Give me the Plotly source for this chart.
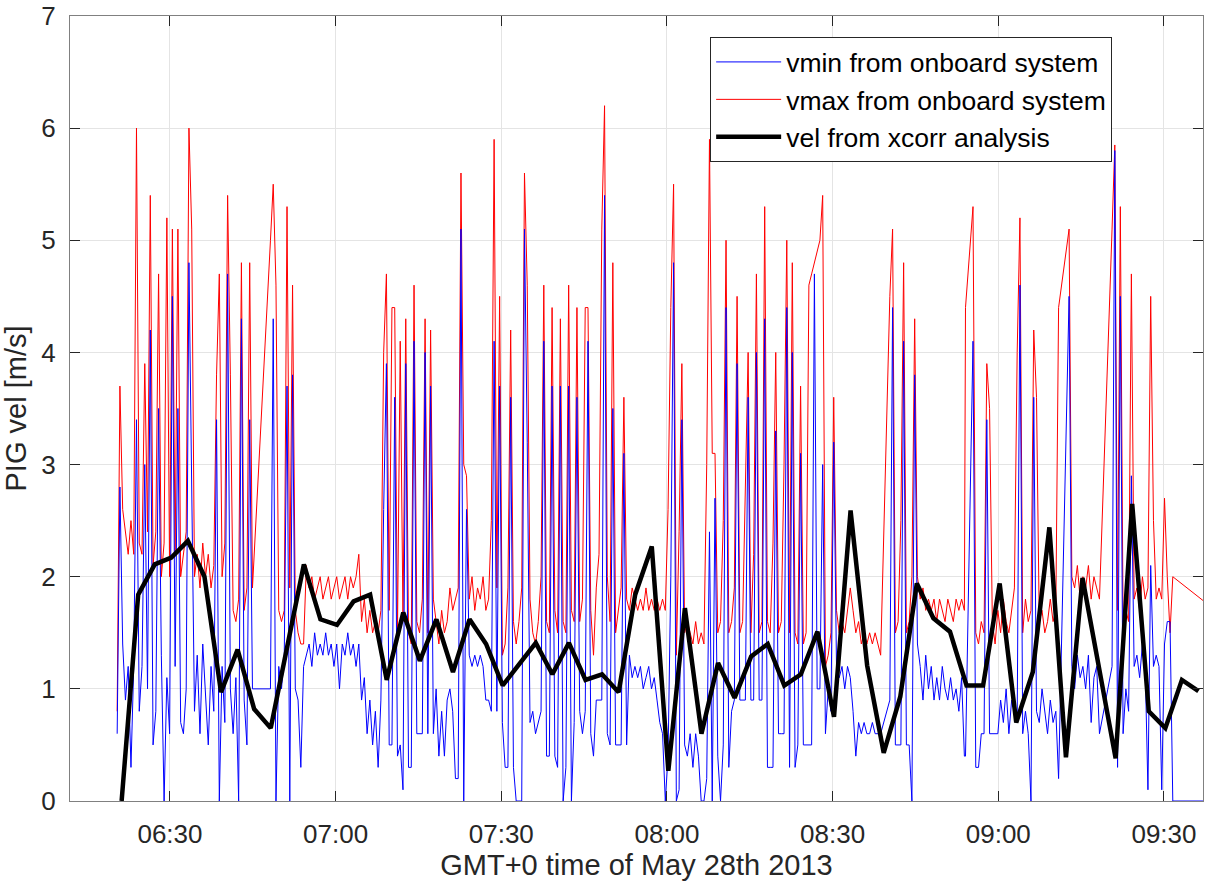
import pandas as pd
import plotly.graph_objects as go

# ---------------- data ----------------
day = pd.Timestamp("2013-05-28 06:00:00")

# onboard system: contiguous recording blocks, one sample every 30 s
sample_period_min = 0.5
seg_start_min = [20.44, 48.20, 160.36, 174.06, 175.42, 192.82, 200.60, 223.72]

vmax_a = [0.8, 3.7, 2.6, 2.4, 2.2, 2.5, 2.2, 6.0, 2.3, 2.2,
          3.9, 2.4, 5.4, 2.1, 2.4, 4.7, 2.0, 2.3, 5.2, 2.0,
          5.1, 2.2, 5.1, 2.0, 2.2, 2.4, 6.0, 5.1, 2.0, 2.2,
          1.9, 2.3, 2.0, 2.2, 1.9, 2.1, 3.8, 4.7, 2.0, 2.3,
          5.4, 3.8, 1.7, 1.6, 1.8, 4.8, 1.7, 1.9, 4.8, 1.9]
vmin_a = [0.6, 2.8, 1.4, 0.9, 1.2, 0.3, 1.2, 3.4, 0.8, 1.2,
          3.0, 1.0, 4.2, 0.5, 0.8, 3.5, 1.3, 0.0, 1.1, 0.6,
          4.5, 1.2, 3.5, 0.7, 0.6, 1.0, 4.8, 2.7, 0.8, 1.3,
          0.6, 1.4, 1.0, 0.5, 1.2, 0.8, 3.4, 0.0, 1.2, 0.7,
          4.7, 1.0, 0.6, 1.1, 0.0, 4.3, 0.9, 0.5, 3.4, 1.0]

vmax_b = [5.0, 5.5, 4.6, 1.7, 1.6, 1.7, 5.3, 1.9, 4.6, 1.7,
          1.5, 1.4, 1.4, 2.1, 1.9, 2.0, 1.8, 1.9, 2.0, 1.8,
          1.9, 2.0, 1.8, 1.9, 2.0, 1.8, 1.9, 2.0, 1.8, 2.0,
          1.9, 2.0, 2.2, 1.6, 1.8, 1.5, 1.7, 1.5, 1.6, 1.5,
          1.7, 4.0, 4.7, 1.7, 4.4, 4.4, 1.5, 4.1, 1.6, 4.3,
          1.5, 1.4, 4.6, 1.6, 1.5, 1.8, 4.3, 1.5, 4.2, 1.8,
          1.6, 1.4, 1.7, 1.5, 1.6, 1.9, 1.7, 1.8, 1.9, 5.6,
          3.0, 2.9, 1.8, 2.0, 1.7, 1.9, 1.8, 2.0, 1.7, 1.8,
          2.5, 5.9, 1.9, 4.5, 1.3, 1.4, 1.9, 4.2, 1.6, 1.4,
          1.6, 1.9, 5.6, 4.6, 1.8, 1.5, 1.4, 1.6, 2.0, 4.6,
          1.6, 1.5, 4.4, 1.7, 1.5, 4.3, 1.6, 1.5, 4.6, 1.7,
          1.6, 4.4, 1.6, 1.8, 4.4, 4.4, 1.7, 1.3, 1.9, 2.2,
          5.1, 6.2, 2.0, 1.6, 4.8, 1.5, 1.7, 1.9, 3.6, 1.8,
          1.7, 1.9, 1.8, 1.7, 1.8, 1.7, 1.9, 1.7, 1.8, 1.7,
          1.8, 1.7, 1.8, 1.7, 2.6, 4.4, 5.5, 1.3, 2.4, 3.9,
          1.5, 1.6, 1.5, 1.4, 1.6, 1.4, 1.5, 1.4, 3.0, 5.9,
          3.1, 3.1, 1.5, 1.6, 2.5, 5.0, 1.5, 1.6, 1.9, 4.5,
          1.5, 1.6, 2.8, 4.0, 1.5, 2.2, 4.7, 1.5, 1.6, 5.3,
          1.6, 1.5, 2.3, 4.0, 1.5, 1.6, 3.0, 5.0, 1.5, 4.8,
          1.5, 1.4, 3.7, 1.4, 1.5, 4.6, 4.7, 4.8, 4.9, 5.0,
          5.4, 1.2, 1.3, 1.5, 3.6, 1.7, 1.5, 1.6, 1.5, 1.7,
          1.9, 1.7, 1.5, 1.6, 1.4, 1.5, 1.4, 1.5, 1.4, 1.5,
          1.4, 1.3]
vmin_b = [1.0, 4.3, 0.0, 1.2, 1.0, 1.3, 3.7, 0.0, 3.8, 1.0,
          0.9, 0.3, 1.2, 1.3, 1.4, 1.2, 1.5, 1.3, 1.4, 1.3,
          1.5, 1.3, 1.4, 1.2, 1.4, 1.0, 1.4, 1.3, 1.5, 1.3,
          1.4, 1.2, 1.4, 0.9, 1.1, 0.6, 0.9, 0.5, 0.8, 0.3,
          0.9, 2.6, 3.9, 0.5, 0.5, 3.6, 0.4, 0.5, 0.1, 3.9,
          0.3, 0.3, 4.1, 0.6, 0.6, 0.6, 4.0, 0.6, 3.7, 0.6,
          1.0, 0.4, 0.8, 0.4, 0.9, 1.0, 0.8, 0.2, 0.2, 5.1,
          0.0, 2.6, 1.3, 1.2, 1.3, 1.2, 1.3, 1.2, 0.9, 0.9,
          0.8, 4.1, 0.8, 3.7, 0.7, 0.3, 0.3, 3.6, 0.3, 0.0,
          0.0, 0.0, 5.1, 3.2, 0.7, 0.8, 0.6, 0.7, 0.8, 4.1,
          0.4, 0.4, 3.7, 0.4, 0.3, 3.7, 0.0, 0.3, 3.7, 0.0,
          0.7, 3.6, 0.8, 0.6, 0.8, 4.1, 0.6, 0.4, 0.9, 0.9,
          0.9, 5.4, 0.6, 0.5, 3.5, 0.5, 0.5, 0.5, 3.1, 0.5,
          1.3, 1.1, 1.2, 1.1, 1.2, 1.0, 1.1, 1.2, 1.0, 1.1,
          0.9, 0.7, 0.6, 0.0, 0.4, 2.0, 4.8, 0.0, 0.1, 3.4,
          0.5, 0.4, 0.6, 0.3, 0.6, 0.4, 0.0, 0.0, 0.2, 2.4,
          0.0, 2.7, 0.4, 0.0, 0.5, 4.4, 0.3, 0.8, 0.9, 3.9,
          0.9, 0.9, 0.9, 3.6, 0.9, 0.9, 4.0, 0.9, 0.9, 4.3,
          0.3, 0.3, 0.3, 3.3, 0.6, 0.6, 0.6, 4.4, 0.3, 4.0,
          0.3, 0.5, 3.1, 0.5, 0.5, 0.5, 0.5, 4.7, 1.0, 1.0,
          3.0, 0.6, 1.0, 0.8, 3.2, 1.2, 1.1, 1.2, 1.0, 1.2,
          1.1, 0.8, 0.4, 0.7, 0.6, 0.7, 0.6, 0.6, 0.7, 0.6,
          0.6, 0.6]

vmax_c = [4.5, 5.1, 1.5, 1.6, 2.5, 4.8, 1.5, 1.6, 2.0, 4.3,
          2.0, 1.8, 1.9, 1.7, 1.8, 1.7, 1.8, 1.6, 1.8, 1.7,
          1.6, 1.8, 1.7, 1.6, 1.8, 1.7, 1.8, 1.7]
vmin_c = [0.9, 4.4, 0.5, 0.5, 0.5, 4.1, 0.5, 0.5, 0.0, 3.8,
          1.4, 1.2, 0.9, 1.3, 1.0, 1.2, 0.9, 1.1, 0.9, 1.2,
          1.0, 0.9, 1.1, 0.9, 1.0, 0.8, 1.1, 0.4]

vmax_d = [4.4]
vmin_d = [0.4]

vmax_e = [5.3, 1.5, 1.4, 1.6, 1.5, 3.9, 3.5, 1.6, 1.4, 1.7,
          1.5, 1.8, 1.6, 1.5, 1.7, 1.9, 4.0, 5.2, 1.5, 1.8,
          1.6, 1.7, 4.2, 3.6, 1.6, 1.7, 1.5, 1.6, 1.8, 1.6,
          1.7, 4.4]
vmin_e = [4.1, 0.3, 0.3, 0.6, 0.6, 3.4, 0.6, 0.6, 0.6, 0.6,
          0.9, 0.7, 1.0, 0.6, 0.9, 0.8, 0.7, 4.6, 0.6, 0.8,
          0.6, 0.0, 3.6, 0.8, 0.7, 1.0, 0.8, 0.6, 0.9, 0.7,
          0.8, 0.2]

vmax_f = [5.1, 2.0, 1.9, 2.1, 1.8, 2.0, 1.9, 2.1, 1.8, 2.0, 1.9, 1.8]
vmin_f = [4.5, 1.2, 1.0, 1.3, 1.1, 1.2, 1.0, 1.3, 0.7, 1.1, 1.2, 0.6]

vmax_g = [5.1, 5.85, 1.7, 5.3, 1.6, 1.7, 1.6, 4.7, 1.8, 1.9,
          1.7, 2.0, 1.8, 1.9, 4.5, 2.5, 1.8, 1.9, 1.8, 2.7,
          2.0, 1.5, 2.0]
vmin_g = [1.2, 5.8, 0.3, 4.5, 0.6, 1.0, 0.8, 2.9, 1.2, 1.3,
          1.1, 1.4, 1.2, 0.1, 2.1, 1.2, 1.3, 1.2, 0.1, 1.4,
          1.6, 1.6, 0.0]

vmax_h = [1.53]
vmin_h = [0.0]

# xcorr analysis: one estimate every 3 minutes
xcorr_start_min = 21.25
xcorr_step_min = 3.0
vel_xcorr = [0.0, 1.84, 2.11, 2.17, 2.32, 2.0, 0.97, 1.35, 0.82,
             0.65, 1.38, 2.11, 1.62, 1.57, 1.78, 1.84, 1.08, 1.68, 1.25, 1.62,
             1.15, 1.62, 1.40, 1.03, 1.22, 1.41, 1.13, 1.41, 1.08, 1.13, 0.97,
             1.84, 2.27, 0.27, 1.72, 0.60, 1.23, 0.92, 1.29, 1.40, 1.03, 1.13, 1.51, 0.75,
             2.59, 1.21, 0.43, 0.93, 1.94, 1.63, 1.51, 1.03, 1.03, 1.94, 0.70,
             1.15, 2.44, 0.39, 1.99, 1.21, 0.38, 2.65, 0.80, 0.65, 1.08, 0.98]

x_range_min = [11.9, 217.07]
y_ticks = [0, 1, 2, 3, 4, 5, 6, 7]

# ---------------- build series ----------------
vmax_segments = [vmax_a, vmax_b, vmax_c, vmax_d, vmax_e, vmax_f, vmax_g, vmax_h]
vmin_segments = [vmin_a, vmin_b, vmin_c, vmin_d, vmin_e, vmin_f, vmin_g, vmin_h]

t_onboard, vmax_all, vmin_all = [], [], []
for start, smax, smin in zip(seg_start_min, vmax_segments, vmin_segments):
    for k, (a, b) in enumerate(zip(smax, smin)):
        t_onboard.append(day + pd.Timedelta(minutes=start + k * sample_period_min))
        vmax_all.append(a)
        vmin_all.append(b)

t_vel = [day + pd.Timedelta(minutes=xcorr_start_min + k * xcorr_step_min)
         for k in range(len(vel_xcorr))]

FONT = "Liberation Sans, Arial, sans-serif"

fig = go.Figure()
fig.add_trace(go.Scatter(x=t_onboard, y=vmax_all, mode="lines",
                         line=dict(color="#ff0000", width=1),
                         name="vmax from onboard system", legendrank=2))
fig.add_trace(go.Scatter(x=t_onboard, y=vmin_all, mode="lines",
                         line=dict(color="#0000ff", width=1),
                         name="vmin from onboard system", legendrank=1))
fig.add_trace(go.Scatter(x=t_vel, y=vel_xcorr, mode="lines",
                         line=dict(color="#000000", width=4.5),
                         name="vel from xcorr analysis", legendrank=3))

axis_common = dict(
    showline=True, linecolor="#808080", linewidth=1, mirror="allticks",
    ticks="inside", ticklen=10, tickwidth=1, tickcolor="#262626",
    showgrid=True, gridcolor="#e4e4e4", gridwidth=1, zeroline=False,
    tickfont=dict(family=FONT, size=26, color="#262626"),
    ticklabeloverflow="allow",
    automargin=False,
)

fig.update_layout(
    width=1205, height=881,
    margin=dict(l=70, r=2, t=16, b=80),
    paper_bgcolor="white", plot_bgcolor="white",
    font=dict(family=FONT, color="#262626"),
    xaxis=dict(
        type="date",
        range=[day + pd.Timedelta(minutes=x_range_min[0]),
               day + pd.Timedelta(minutes=x_range_min[1])],
        tick0=day, dtick=30 * 60 * 1000, tickformat="%H:%M",
        ticklabelstandoff=10,
        title=dict(text="GMT+0 time of May 28th 2013",
                   font=dict(family=FONT, size=29, color="#262626"), standoff=2),
        **axis_common,
    ),
    yaxis=dict(
        range=[0, 7], tickvals=y_ticks,
        ticklabelstandoff=8,
        title=dict(text="PIG vel [m/s]",
                   font=dict(family=FONT, size=29, color="#262626"), standoff=8),
        **axis_common,
    ),
    legend=dict(
        x=0.565, y=0.973, xanchor="left", yanchor="top",
        bgcolor="white", bordercolor="#262626", borderwidth=1,
        font=dict(family=FONT, size=26.5, color="#000000"),
        itemwidth=65, tracegroupgap=0,
    ),
    showlegend=True,
)

fig.write_html("out.html")
